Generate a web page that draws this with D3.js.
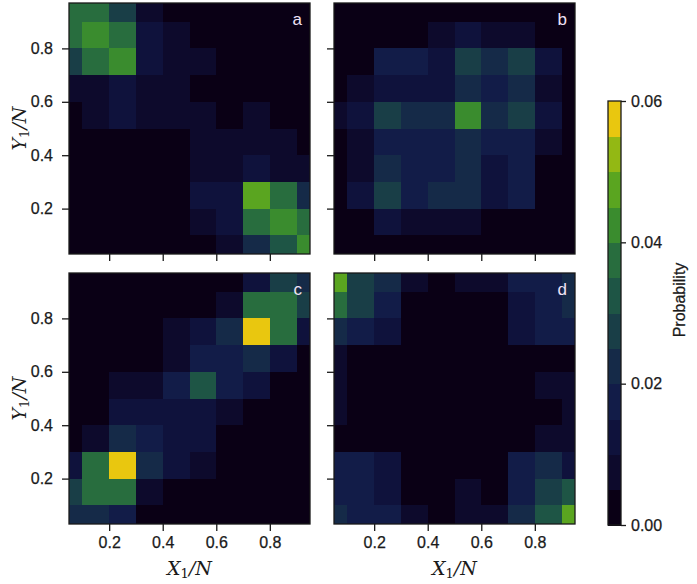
<!DOCTYPE html>
<html><head><meta charset="utf-8">
<script src="https://cdn.jsdelivr.net/npm/d3@7"></script>
<style>body{margin:0;background:#fff}</style>
</head><body>
<svg id="chart" width="697" height="584" xmlns="http://www.w3.org/2000/svg"></svg>
<script>
// ---- data ----
const binEdges = [0, 0.1, 0.2, 0.3, 0.4, 0.5, 0.6, 0.7, 0.8, 0.9, 1.0];
const xTicks = [0.2, 0.4, 0.6, 0.8];
const yTicks = [0.2, 0.4, 0.6, 0.8];
const cbTicks = [0.00, 0.02, 0.04, 0.06];
const panelLabels = ["a", "b", "c", "d"];
const bandColors = ["#0a0015", "#0d0a2c", "#0f123c", "#121c48", "#152a48", "#193e47",
                    "#1e5545", "#286d3e", "#3a8c2e", "#5aa520", "#93b814", "#e9c70f"];
// rows listed from top (Y1/N in 0.9-1.0) to bottom (0.0-0.1); columns X1/N 0.0-0.1 ... 0.9-1.0
const panelA = [
  [.037,.037,.027,.007,0,0,0,0,0,0],
  [.037,.042,.037,.012,.007,0,0,0,0,0],
  [.027,.037,.042,.012,.007,.007,0,0,0,0],
  [.007,.007,.012,.007,.007,0,0,0,0,0],
  [0,.007,.012,.007,.007,.007,0,.007,0,0],
  [0,0,0,0,0,.007,.007,.007,.007,0],
  [0,0,0,0,0,.007,.007,.012,.007,.007],
  [0,0,0,0,0,.012,.012,.047,.037,.022],
  [0,0,0,0,0,.007,.012,.037,.042,.037],
  [0,0,0,0,0,0,.007,.022,.032,.042]
];
const panelB = [
  [0,0,0,0,0,0,0,0,0,0],
  [0,0,0,0,.007,.012,.007,.007,0,0],
  [0,0,.017,.017,.012,.027,.022,.027,.012,0],
  [0,.007,.012,.012,.012,.022,.017,.022,.007,0],
  [.007,.012,.027,.022,.022,.042,.022,.027,.012,0],
  [0,.007,.017,.017,.017,.022,.017,.017,.007,0],
  [0,.007,.022,.017,.017,.022,.012,.017,0,0],
  [0,.012,.027,.017,.022,.022,.012,.017,0,0],
  [0,0,.012,.007,.007,.007,0,0,0,0],
  [0,0,0,0,0,0,0,0,0,0]
];
const panelC = [
  [0,0,0,0,0,0,0,.012,.027,.022],
  [0,0,0,0,0,0,.007,.037,.037,.027],
  [0,0,0,0,.007,.012,.022,.057,.037,.012],
  [0,0,0,0,.007,.017,.017,.022,.012,0],
  [0,0,.007,.007,.017,.033,.017,.012,0,0],
  [0,0,.012,.012,.012,.012,.007,0,0,0],
  [0,.007,.022,.017,.012,.012,0,0,0,0],
  [.012,.037,.057,.022,.012,.007,0,0,0,0],
  [.027,.037,.037,.007,0,0,0,0,0,0],
  [.022,.022,.017,0,0,0,0,0,0,0]
];
const panelD = [
  [.047,.027,.022,.007,0,.007,.007,.017,.017,.022],
  [.037,.027,.017,0,0,0,0,.012,.017,.022],
  [.022,.017,.012,0,0,0,0,.012,.017,.017],
  [.007,0,0,0,0,0,0,0,0,0],
  [.007,0,0,0,0,0,0,0,.007,.007],
  [.007,0,0,0,0,0,0,0,0,.007],
  [0,0,0,0,0,0,0,0,.007,.007],
  [.017,.017,.012,0,0,0,0,.017,.022,.012],
  [.017,.017,.012,0,0,.007,0,.017,.027,.032],
  [.022,.017,.017,.007,0,.007,.007,.022,.032,.047]
];
const panels = [panelA, panelB, panelC, panelD];

// ---- layout ----
const svg = d3.select("#chart");
const W = 241, H = 251;
const origins = [[69, 3], [334, 3], [69, 273], [334, 273]];
const x = d3.scaleLinear().domain([0.05, 0.95]).range([0, W]);
const y = d3.scaleLinear().domain([0.03, 0.97]).range([H, 0]);
const color = d3.scaleQuantize().domain([0, 0.06]).range(bandColors);
const tickFont = "'Liberation Sans', Arial, sans-serif";
const ink = "#1a1a1a";

function styleText(sel) {
  sel.attr("font-family", tickFont).attr("font-size", 16).attr("fill", ink)
     .attr("stroke", ink).attr("stroke-width", 0.25);
}

panels.forEach((data, p) => {
  const [ox, oy] = origins[p];
  const g = svg.append("g").attr("transform", `translate(${ox},${oy})`);
  const clipId = "clip" + p;
  g.append("clipPath").attr("id", clipId).append("rect").attr("width", W).attr("height", H);
  const cells = [];
  data.forEach((row, i) => row.forEach((v, j) => {
    const yb = data.length - 1 - i;
    cells.push({x0: binEdges[j], x1: binEdges[j + 1], y0: binEdges[yb], y1: binEdges[yb + 1], v});
  }));
  g.append("g").attr("clip-path", `url(#${clipId})`).attr("shape-rendering", "crispEdges")
    .selectAll("rect").data(cells).join("rect")
    .attr("x", d => x(d.x0)).attr("y", d => y(d.y1))
    .attr("width", d => x(d.x1) - x(d.x0) + 0.6)
    .attr("height", d => y(d.y0) - y(d.y1) + 0.6)
    .attr("fill", d => color(d.v));

  const showX = p >= 2, showY = p % 2 === 0;
  const ax = g.append("g").attr("transform", `translate(0,${H})`)
    .call(d3.axisBottom(x).tickValues(xTicks).tickSize(7).tickPadding(6)
      .tickFormat(showX ? d3.format(".1f") : () => ""));
  const ay = g.append("g")
    .call(d3.axisLeft(y).tickValues(yTicks).tickSize(7).tickPadding(9)
      .tickFormat(showY ? d3.format(".1f") : () => ""));
  [ax, ay].forEach(a => {
    a.select(".domain").remove();
    a.selectAll("line").attr("stroke", ink).attr("stroke-width", 1.3);
    styleText(a.selectAll("text"));
  });
  g.append("rect").attr("width", W).attr("height", H)
    .attr("fill", "none").attr("stroke", ink).attr("stroke-width", 1.3);
  g.append("text").attr("x", W - 8).attr("y", 22).attr("text-anchor", "end")
    .attr("font-family", tickFont).attr("font-size", 17).attr("fill", "#efe2f5")
    .text(panelLabels[p]);
});

// axis titles (math italic)
function mathLabel(sel, letter) {
  const t = sel.append("text").attr("font-family", "'DejaVu Serif', serif")
    .attr("font-size", 19).attr("fill", ink).attr("text-anchor", "middle");
  t.append("tspan").attr("font-style", "italic").text(letter);
  t.append("tspan").attr("font-size", 13).attr("dy", 3).text("1");
  t.append("tspan").attr("dy", -3).attr("font-style", "italic").text("/N");
  return t;
}
[189.5, 454.5].forEach(cx => {
  mathLabel(svg.append("g").attr("transform", `translate(${cx},575)`), "X");
});
[128.5, 398.5].forEach(cy => {
  mathLabel(svg.append("g").attr("transform", `translate(26,${cy}) rotate(-90)`), "Y");
});

// colorbar
const cb = svg.append("g").attr("transform", "translate(608,101)");
const cbH = 424, cbW = 13;
const cy = d3.scaleLinear().domain([0, 0.06]).range([cbH, 0]);
const bandW = 0.06 / bandColors.length;
cb.selectAll("rect.band").data(bandColors).join("rect").attr("class", "band")
  .attr("shape-rendering", "crispEdges")
  .attr("x", 0).attr("width", cbW)
  .attr("y", (c, i) => cy((i + 1) * bandW)).attr("height", (c, i) => cy(i * bandW) - cy((i + 1) * bandW) + 0.6)
  .attr("fill", c => c);
cb.append("rect").attr("width", cbW).attr("height", cbH).attr("fill", "none")
  .attr("stroke", ink).attr("stroke-width", 1.3);
const cax = cb.append("g").attr("transform", `translate(${cbW},0)`)
  .call(d3.axisRight(cy).tickValues(cbTicks).tickSize(5).tickPadding(5).tickFormat(d3.format(".2f")));
cax.select(".domain").remove();
cax.selectAll("line").attr("stroke", ink).attr("stroke-width", 1.3);
styleText(cax.selectAll("text"));
const cbLabel = svg.append("text").attr("transform", "translate(685,300) rotate(-90)")
  .attr("text-anchor", "middle").text("Probability");
styleText(cbLabel);
</script>
</body></html>
